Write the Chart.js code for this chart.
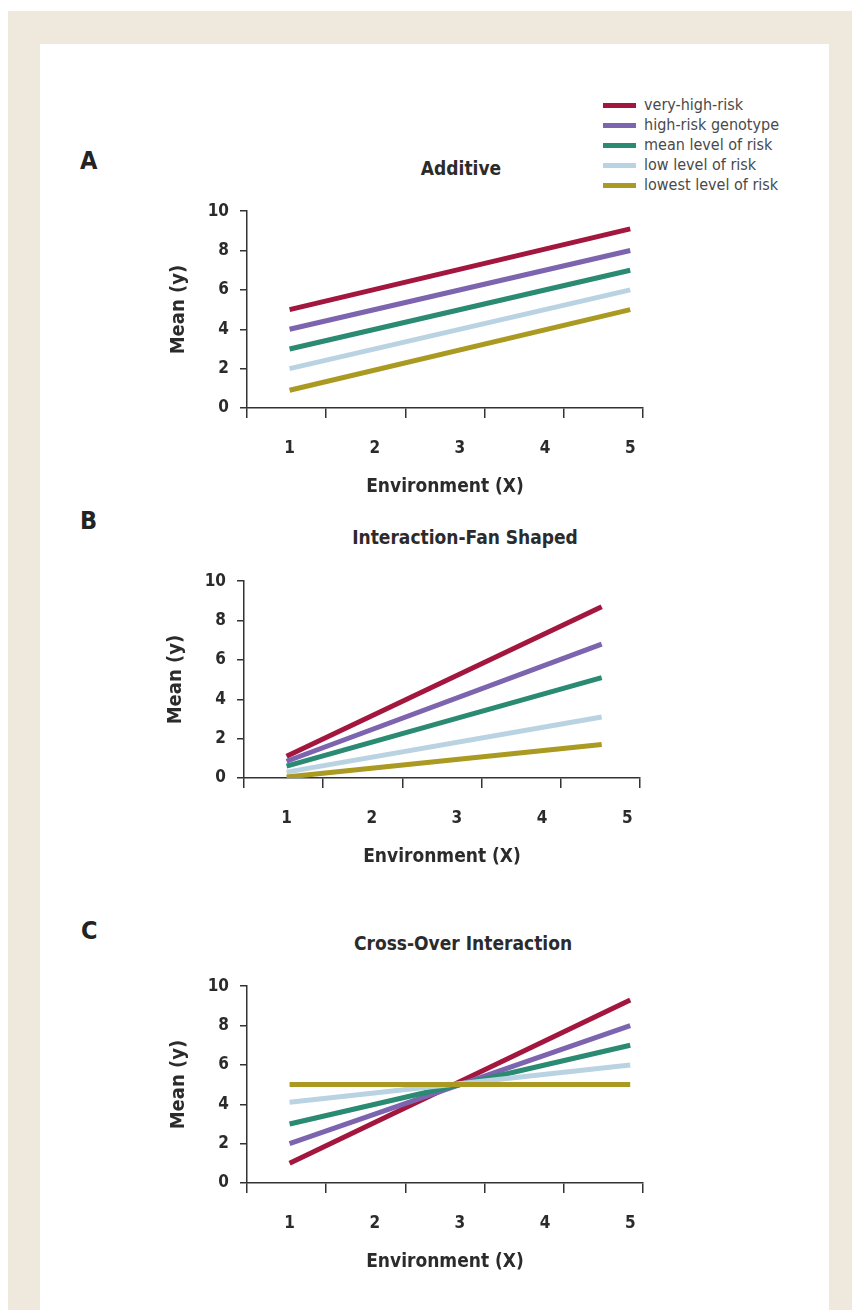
<!DOCTYPE html>
<html>
<head>
<meta charset="utf-8">
<script src="https://cdn.jsdelivr.net/npm/chart.js@4"></script>
<style>
  html, body { margin: 0; padding: 0; background: #ffffff; }
  body { width: 852px; height: 1310px; position: relative; overflow: hidden;
         font-family: "Liberation Sans Narrow", "DejaVu Sans Condensed", "Liberation Sans", sans-serif; }
  #frame { position: absolute; left: 8px; top: 11px; width: 844px; height: 1320px; background: #efe8dd; }
  #inner { position: absolute; left: 40px; top: 44px; width: 789px; height: 1300px; background: #ffffff; }
  .letter { position: absolute; font-weight: bold; font-size: 25px; color: #232323; line-height: 1; }
  .ptitle { position: absolute; font-weight: bold; font-size: 19px; color: #2b2b2b; line-height: 1; transform: translate(-50%, -50%); white-space: nowrap; }
  .cv { position: absolute; }
  #legend { position: absolute; left: 603px; top: 95px; }
  .lrow { height: 20px; display: flex; align-items: center; }
  .sw { width: 33px; height: 5px; margin-right: 8px; }
  .lt { font-size: 16px; color: #4a4a4a; white-space: nowrap; line-height: 1; }
</style>
</head>
<body>
<div id="frame"></div>
<div id="inner"></div>

<div class="letter" style="left:80px; top:148px;">A</div>
<div class="letter" style="left:80px; top:508px;">B</div>
<div class="letter" style="left:81px; top:918px;">C</div>

<div class="ptitle" id="tA" style="left:461px; top:168px;"></div>
<div class="ptitle" id="tB" style="left:465px; top:537px;"></div>
<div class="ptitle" id="tC" style="left:463px; top:943px;"></div>

<div id="legend"></div>

<canvas id="cA" class="cv" width="520" height="309" style="left:150px; top:190px; width:520px; height:309px;"></canvas>
<canvas id="cB" class="cv" width="520" height="309" style="left:147px; top:560px; width:520px; height:309px;"></canvas>
<canvas id="cC" class="cv" width="520" height="309" style="left:150px; top:965px; width:520px; height:309px;"></canvas>

<script>
// ---- data ----
const seriesNames = ["very-high-risk", "high-risk genotype", "mean level of risk", "low level of risk", "lowest level of risk"];
const seriesColors = ["#a3173f", "#7d64ae", "#2a8a72", "#bad3e3", "#ab9a22"];
const panelTitles = ["Additive", "Interaction-Fan Shaped", "Cross-Over Interaction"];
const xTickLabels = [1, 2, 3, 4, 5];
const yTickLabels = [0, 2, 4, 6, 8, 10];
const xAxisTitle = "Environment (X)";
const yAxisTitle = "Mean (y)";

// Panel A: Additive (x from 1 to 5)
const additiveX = [1, 5];
const additiveVeryHigh = [5.0, 9.1];
const additiveHigh = [4.0, 8.0];
const additiveMean = [3.0, 7.0];
const additiveLow = [2.0, 6.0];
const additiveLowest = [0.9, 5.0];

// Panel B: Interaction-Fan Shaped (x from 1 to 4.7)
const fanX = [1, 4.7];
const fanVeryHigh = [1.1, 8.7];
const fanHigh = [0.85, 6.8];
const fanMean = [0.6, 5.1];
const fanLow = [0.3, 3.1];
const fanLowest = [0.05, 1.7];

// Panel C: Cross-Over Interaction (x from 1 to 5)
const crossX = [1, 5];
const crossVeryHigh = [1.0, 9.3];
const crossHigh = [2.0, 8.0];
const crossMean = [3.0, 7.0];
const crossLow = [4.1, 6.0];
const crossLowest = [5.0, 5.0];

// decorative tick marks on the x axis (fractions of axis length)
const xMarkFractions = [0, 0.2, 0.4, 0.6, 0.8, 1.0];

// ---- text ----
document.getElementById('tA').textContent = panelTitles[0];
document.getElementById('tB').textContent = panelTitles[1];
document.getElementById('tC').textContent = panelTitles[2];

const leg = document.getElementById('legend');
seriesNames.forEach((n, i) => {
  const r = document.createElement('div'); r.className = 'lrow';
  const s = document.createElement('div'); s.className = 'sw'; s.style.background = seriesColors[i];
  const t = document.createElement('div'); t.className = 'lt'; t.textContent = n;
  r.appendChild(s); r.appendChild(t); leg.appendChild(r);
});

const FONT = '"Liberation Sans Narrow", "DejaVu Sans Condensed", "Liberation Sans", sans-serif';
const AX = '#333333';

function makeChart(id, xs, ys) {
  const datasets = ys.map((arr, i) => ({
    label: seriesNames[i],
    data: arr.map((v, j) => ({ x: xs[j], y: v })),
    borderColor: seriesColors[i],
    backgroundColor: seriesColors[i],
    borderWidth: 5,
    pointRadius: 0,
    fill: false,
    tension: 0,
    borderCapStyle: 'butt',
    xAxisID: 'x',
    yAxisID: 'y'
  })).reverse();
  return new Chart(document.getElementById(id), {
    type: 'line',
    data: { datasets },
    options: {
      responsive: false,
      animation: false,
      events: [],
      layout: { padding: { top: 17, right: 27, left: 0, bottom: 0 } },
      plugins: { legend: { display: false }, tooltip: { enabled: false }, title: { display: false } },
      scales: {
        x: {
          type: 'linear', position: 'bottom', weight: 1,
          min: 0.5, max: 5.15,
          afterBuildTicks: s => { s.ticks = xTickLabels.map(v => ({ value: v })); },
          afterFit: s => { s.height = 81; },
          grid: { display: false, drawTicks: false },
          border: { display: false },
          ticks: { padding: 20, color: '#2b2b2b', font: { family: FONT, size: 17, weight: 'bold' }, maxRotation: 0 },
          title: { display: true, text: xAxisTitle, color: '#2b2b2b', padding: { top: 0, bottom: 1 },
                   font: { family: FONT, size: 19, weight: 'bold' } }
        },
        xt: {
          type: 'linear', position: 'bottom', weight: 0,
          min: 0, max: 1,
          afterBuildTicks: s => { s.ticks = xMarkFractions.map(v => ({ value: v })); },
          afterFit: s => { s.height = 10; },
          grid: { display: true, drawOnChartArea: false, drawTicks: true, tickLength: 10, color: AX, lineWidth: 1.5 },
          border: { display: true, color: AX, width: 1.5 },
          ticks: { display: false }
        },
        y: {
          type: 'linear', position: 'left',
          min: 0, max: 10,
          afterBuildTicks: s => { s.ticks = yTickLabels.map(v => ({ value: v })); },
          afterFit: s => { s.width = 97; },
          grid: { display: true, drawOnChartArea: false, drawTicks: true, tickLength: 7, color: AX, lineWidth: 1.5 },
          border: { display: true, color: AX, width: 1.5 },
          ticks: { padding: 11, color: '#2b2b2b', font: { family: FONT, size: 17, weight: 'bold' } },
          title: { display: true, text: yAxisTitle, color: '#2b2b2b', padding: { top: 17, bottom: 0 },
                   font: { family: FONT, size: 20, weight: 'bold' } }
        }
      }
    }
  });
}

makeChart('cA', additiveX, [additiveVeryHigh, additiveHigh, additiveMean, additiveLow, additiveLowest]);
makeChart('cB', fanX, [fanVeryHigh, fanHigh, fanMean, fanLow, fanLowest]);
makeChart('cC', crossX, [crossVeryHigh, crossHigh, crossMean, crossLow, crossLowest]);
</script>
</body>
</html>
